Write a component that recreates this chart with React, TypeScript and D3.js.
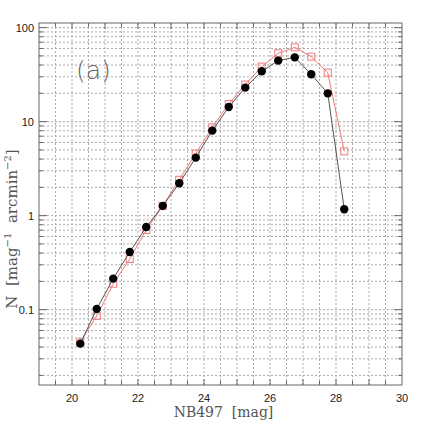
import React, { useEffect, useRef } from "react";
import * as d3 from "d3";

const mags = [20.25, 20.75, 21.25, 21.75, 22.25, 22.75, 23.25, 23.75, 24.25, 24.75, 25.25, 25.75, 26.25, 26.75, 27.25, 27.75, 28.25];
const countsBlack = [0.0435, 0.102, 0.214, 0.411, 0.758, 1.27, 2.21, 4.14, 8.02, 14.3, 23.0, 34.3, 44.6, 48.3, 31.9, 20.0, 1.17];
const countsRed = [0.045, 0.086, 0.189, 0.346, 0.705, 1.27, 2.41, 4.57, 8.7, 15.4, 24.8, 38.5, 53.3, 61.7, 49.1, 33.2, 4.83];
const xTickLabels = [20, 22, 24, 26, 28, 30];
const yTickLabels = [0.1, 1, 10, 100];

export default function App() {
  const ref = useRef<SVGSVGElement>(null);

  useEffect(() => {
    const svg = d3.select(ref.current);
    svg.selectAll("*").remove();

    const margin = { top: 23, right: 23, bottom: 40, left: 39 };
    const width = 425 - margin.left - margin.right;
    const height = 425 - margin.top - margin.bottom;

    const g = svg.append("g").attr("transform", `translate(${margin.left},${margin.top})`);

    const x = d3.scaleLinear().domain([19, 30]).range([0, width]);
    const y = d3.scaleLog().domain([0.0158, 112]).range([height, 0]);

    const xMinor = d3.range(19.5, 30, 0.5);
    const yMinor: number[] = [];
    [0.01, 0.1, 1, 10, 100].forEach(d => {
      for (let k = 1; k <= 9; k++) {
        const v = d * k;
        if (v >= 0.0158 && v <= 112) yMinor.push(v);
      }
    });

    // grid
    const grid = g.append("g").attr("stroke", "#aaa").attr("stroke-width", 1).attr("stroke-dasharray", "2,2");
    grid.selectAll(".vg").data(xMinor).enter().append("line")
      .attr("x1", d => x(d)).attr("x2", d => x(d)).attr("y1", 0).attr("y2", height);
    grid.selectAll(".hg").data(yMinor).enter().append("line")
      .attr("x1", 0).attr("x2", width).attr("y1", d => y(d)).attr("y2", d => y(d));

    // ticks (inward, all four sides)
    const ticks = g.append("g").attr("stroke", "#666").attr("stroke-width", 1);
    xMinor.forEach(d => {
      const len = Number.isInteger(d) ? 6 : 4;
      ticks.append("line").attr("x1", x(d)).attr("x2", x(d)).attr("y1", height).attr("y2", height - len);
      ticks.append("line").attr("x1", x(d)).attr("x2", x(d)).attr("y1", 0).attr("y2", len);
    });
    yMinor.forEach(d => {
      const len = yTickLabels.includes(d) ? 8 : 4;
      ticks.append("line").attr("x1", 0).attr("x2", len).attr("y1", y(d)).attr("y2", y(d));
      ticks.append("line").attr("x1", width).attr("x2", width - len).attr("y1", y(d)).attr("y2", y(d));
    });

    g.append("rect").attr("width", width).attr("height", height)
      .attr("fill", "none").attr("stroke", "#666").attr("stroke-width", 1);

    // tick labels
    g.selectAll(".xl").data(xTickLabels).enter().append("text")
      .attr("x", d => x(d)).attr("y", height + 17)
      .attr("text-anchor", "middle").attr("font-family", "Liberation Sans, Arial, sans-serif")
      .attr("font-size", 11).attr("fill", "#222").text(d => d);
    g.selectAll(".yl").data(yTickLabels).enter().append("text")
      .attr("x", -5).attr("y", d => y(d) + 4)
      .attr("text-anchor", "end").attr("font-family", "Liberation Sans, Arial, sans-serif")
      .attr("font-size", 11).attr("fill", "#222").text(d => d);

    // axis titles
    g.append("text")
      .attr("x", width / 2 + 3).attr("y", height + 32)
      .attr("text-anchor", "middle").attr("font-family", "DejaVu Serif, Liberation Serif, serif")
      .attr("font-size", 14).attr("fill", "#555").attr("xml:space", "preserve")
      .text("NB497  [mag]");

    const yl = g.append("text")
      .attr("transform", `translate(${-22},${229 - margin.top}) rotate(-90)`)
      .attr("text-anchor", "middle").attr("font-family", "DejaVu Serif, Liberation Serif, serif")
      .attr("font-size", 15).attr("fill", "#555").attr("xml:space", "preserve");
    yl.append("tspan").text("N  [mag");
    yl.append("tspan").attr("dy", -6).attr("font-size", 10).text("\u22121");
    yl.append("tspan").attr("dy", 6).text("  arcmin");
    yl.append("tspan").attr("dy", -6).attr("font-size", 10).text("\u22122");
    yl.append("tspan").attr("dy", 6).text("]");

    g.append("text").attr("x", 76 - margin.left).attr("y", 79 - margin.top)
      .attr("font-family", "DejaVu Sans, sans-serif").attr("font-weight", 300)
      .attr("font-size", 25).attr("fill", "#666").text("(a)");

    const line = d3.line<number>().x((_, i) => x(mags[i])).y(d => y(d));

    // red series
    g.append("path").datum(countsRed).attr("d", line)
      .attr("fill", "none").attr("stroke", "#f07878").attr("stroke-width", 1);
    g.selectAll(".sq").data(countsRed).enter().append("rect")
      .attr("x", (_, i) => x(mags[i]) - 3.5).attr("y", d => y(d) - 3.5)
      .attr("width", 7).attr("height", 7)
      .attr("fill", "none").attr("stroke", "#f07878").attr("stroke-width", 1);

    // black series
    g.append("path").datum(countsBlack).attr("d", line)
      .attr("fill", "none").attr("stroke", "#555").attr("stroke-width", 1);
    g.selectAll(".dot").data(countsBlack).enter().append("circle")
      .attr("cx", (_, i) => x(mags[i])).attr("cy", d => y(d)).attr("r", 4.2)
      .attr("fill", "#000");
  }, []);

  return (
    <div style={{ position: "absolute", left: 0, top: 0 }}>
      <svg ref={ref} width={425} height={425} style={{ display: "block", background: "#fff" }} />
    </div>
  );
}
